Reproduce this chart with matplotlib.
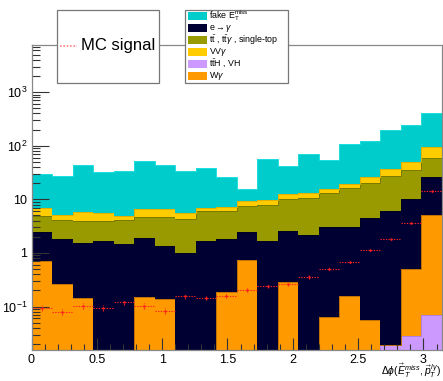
import numpy as np
import matplotlib
matplotlib.use('Agg')
import matplotlib.pyplot as plt
from matplotlib.patches import Rectangle
from matplotlib.lines import Line2D
from matplotlib.ticker import FixedLocator, FixedFormatter, MultipleLocator

plt.rcParams['font.family'] = ['Liberation Sans', 'DejaVu Sans']
plt.rcParams['mathtext.fontset'] = 'custom'
plt.rcParams['mathtext.rm'] = 'Liberation Sans'
plt.rcParams['mathtext.it'] = 'Liberation Sans:italic'
plt.rcParams['mathtext.sf'] = 'Liberation Sans'

# 20 bins of delta-phi between MET and the l+gamma system, 0..pi
edges = np.linspace(0, np.pi, 21)

# per-process yields, stacked bottom to top in this order
tth_vh = [0, 0, 0, 0, 0, 0, 0, 0, 0, 0, 0, 0, 0, 0, 0, 0, 0, 0.019, 0.028, 0.070]
w_gamma = [0.718, 0.263, 0.144, 0, 0, 0.152, 0.136, 0, 0, 0.187,
           0.74, 0, 0.282, 0, 0.064, 0.159, 0.057, 0, 0.474, 4.98]
e_to_gamma = [1.71, 1.59, 1.42, 1.65, 1.45, 1.76, 1.19, 1.00, 1.70, 1.64,
              1.76, 1.70, 2.25, 2.20, 2.95, 2.85, 4.37, 5.97, 9.70, 20.85]
ttbar = [2.49, 2.34, 2.46, 2.25, 2.74, 2.72, 3.30, 3.32, 4.48, 4.17,
         5.16, 6.30, 7.67, 8.60, 10.39, 13.59, 15.87, 20.71, 25.4, 32.0]
vv_gamma = [2.11, 0.94, 1.72, 1.69, 0.64, 1.90, 1.90, 1.27, 0.76, 1.24,
            1.84, 1.90, 2.30, 2.60, 2.30, 2.90, 5.60, 9.40, 13.1, 37.9]
fake_met = [22.1, 21.9, 37.7, 26.5, 28.7, 44.4, 36.9, 28.9, 30.7, 19.1,
            6.4, 46.3, 28.5, 57.5, 37.4, 89.5, 96.1, 156.9, 198.3, 318.2]

signal = [0.094, 0.079, 0.104, 0.094, 0.121, 0.104, 0.083, 0.155, 0.144, 0.159,
          0.206, 0.238, 0.259, 0.356, 0.509, 0.679, 1.14, 1.80, 3.57, 14.2]
signal_err = [0.012, 0.010, 0.012, 0.011, 0.014, 0.012, 0.010, 0.015, 0.014, 0.015,
              0.018, 0.020, 0.021, 0.026, 0.033, 0.040, 0.060, 0.080, 0.13, 0.40]

stack = [
    (tth_vh, '#cc99ff', '#b080e0'),
    (w_gamma, '#ff9900', '#c07000'),
    (e_to_gamma, '#000033', '#000022'),
    (ttbar, '#999900', '#7a7a00'),
    (vv_gamma, '#ffcc00', '#e0b000'),
    (fake_met, '#00cccc', '#20dede'),
]

fig = plt.figure(figsize=(4.43, 3.81), dpi=100)
ax = fig.add_axes([31.5 / 443, 31 / 381, 410.5 / 443, 305.3 / 381])
ax.set_yscale('log')

base = np.full(20, 1e-4)
for vals, fc, ec in stack:
    top = base + np.array(vals)
    ax.stairs(top, edges, baseline=base, fill=True, color=fc, lw=0)
    ax.stairs(top, edges, baseline=None, color=ec, lw=0.7)
    base = top

centers = 0.5 * (edges[:-1] + edges[1:])
half = 0.5 * (edges[1] - edges[0])
eb = ax.errorbar(centers, signal, xerr=half, yerr=signal_err, fmt='.', ms=1.5,
                 color='#ff2020', ecolor='#ff2020', elinewidth=0.8, capsize=0)
for lc in eb[2]:
    lc.set_linestyle((0, (1.2, 1.2)))

ax.set_xlim(0, np.pi)
ax.set_ylim(0.0155, 7650)

ax.xaxis.set_minor_locator(MultipleLocator(0.1))
ax.set_xticks([0, 0.5, 1, 1.5, 2, 2.5, 3], ['0', '0.5', '1', '1.5', '2', '2.5', '3'])
ax.yaxis.set_major_locator(FixedLocator([0.1, 1, 10, 100, 1000]))
ax.yaxis.set_major_formatter(FixedFormatter(['$10^{-1}$', '1', '10', '$10^{2}$', '$10^{3}$']))
ax.tick_params(which='both', direction='in', top=False, right=False,
               labelsize=9, colors='#333333', labelcolor='black')
ax.tick_params(axis='x', which='major', length=9, width=0.8, pad=3)
ax.tick_params(axis='x', which='minor', length=4.5, width=0.8)
ax.tick_params(axis='y', which='major', length=12, width=0.8, pad=3)
ax.tick_params(axis='y', which='minor', length=6, width=0.8)
for sp in ax.spines.values():
    sp.set_color('#888888')
    sp.set_linewidth(0.9)
ax.set_zorder(1)

fig.text(441 / 443, 1 - 380.5 / 381,
         r'$\Delta\phi(\vec{E}_{T}^{miss},\vec{p}_{T}^{\,l\gamma})$',
         ha='right', va='bottom', fontsize=7.5)


def fx(px):
    return px / 443


def fy(py):
    return 1 - py / 381


# signal legend box
fig.patches.append(Rectangle((fx(56.7), fy(82.7)), fx(102.6), 72.7 / 381,
                             transform=fig.transFigure, fc='white', ec='#777777',
                             lw=0.9, zorder=5))
fig.lines.append(Line2D([fx(60), fx(77)], [fy(46), fy(46)], transform=fig.transFigure,
                        color='#ff8080', lw=1.2, ls=(0, (1, 1)), zorder=6))
fig.text(fx(81), fy(45.5), 'MC signal', fontsize=12, va='center', ha='left', zorder=6)

# background legend box
fig.patches.append(Rectangle((fx(185), fy(82.7)), fx(102.7), 72.7 / 381,
                             transform=fig.transFigure, fc='white', ec='#777777',
                             lw=0.9, zorder=5))
legend_rows = [
    ('#00cccc', r'fake $\mathregular{E}_{\mathregular{T}}^{\mathregular{miss}}$'),
    ('#000033', r'e$\rightarrow\gamma$'),
    ('#999900', r't$\bar{\mathregular{t}}$ , t$\bar{\mathregular{t}}\gamma$ , single-top'),
    ('#ffcc00', r'VV$\gamma$'),
    ('#cc99ff', r't$\bar{\mathregular{t}}$H , VH'),
    ('#ff9900', r'W$\gamma$'),
]
for i, (col, lab) in enumerate(legend_rows):
    yc = 16 + 12 * i
    fig.patches.append(Rectangle((fx(188), fy(yc + 4)), fx(19), 8 / 381,
                                 transform=fig.transFigure, fc=col, ec='none', zorder=6))
    fig.text(fx(209), fy(yc), lab, fontsize=6.4, va='center', ha='left', zorder=6)

fig.savefig('out.png', dpi=100)
